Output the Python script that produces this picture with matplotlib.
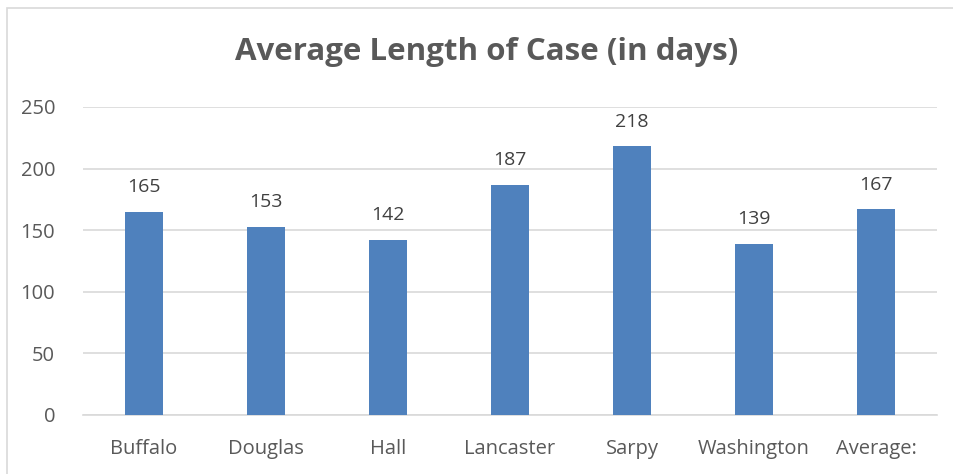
import matplotlib
matplotlib.use('Agg')
import matplotlib.pyplot as plt
from matplotlib.patches import Rectangle

# chart data
counties = ['Buffalo', 'Douglas', 'Hall', 'Lancaster', 'Sarpy', 'Washington', 'Average:']
days = [165, 153, 142, 187, 218, 139, 167]

plt.rcParams['font.family'] = ['Open Sans', 'DejaVu Sans']

fig = plt.figure(figsize=(9.54, 4.74), dpi=100)
ax = fig.add_axes([83/954, 1 - 415/474, (937 - 83)/954, 308/474])

x = range(len(counties))
bars = ax.bar(x, days, width=0.31, color='#4F81BD', zorder=3)
for xi, v in zip(x, days):
    ax.text(xi, v + 20, str(v), ha='center', va='center', fontsize=14, color='#404040')

ax.set_xlim(-0.5, len(counties) - 0.5)
ax.set_ylim(0, 250)
ax.set_yticks(range(0, 251, 50))
ax.set_xticks(list(x))
ax.set_xticklabels(counties)
ax.tick_params(axis='both', length=0, labelsize=14.5, colors='#595959')
ax.tick_params(axis='x', pad=17)
ax.tick_params(axis='y', pad=20)
ax.grid(axis='y', color='#D9D9D9', linewidth=1.2, zorder=0)
for s in ['top', 'right', 'left']:
    ax.spines[s].set_visible(False)
ax.spines['bottom'].set_color('#D9D9D9')
ax.spines['bottom'].set_linewidth(1.2)

fig.text(487/954, 1 - 52/474, 'Average Length of Case (in days)', ha='center', va='center',
         fontsize=22.5, fontweight='bold', color='#595959')

# outer chart border
fig.patches.append(Rectangle((7/954, -0.05), 1.0, 1 - 8/474 + 0.05, transform=fig.transFigure,
                             fill=False, edgecolor='#D9D9D9', linewidth=1.2))

fig.savefig('out.png', dpi=100, facecolor='white')
